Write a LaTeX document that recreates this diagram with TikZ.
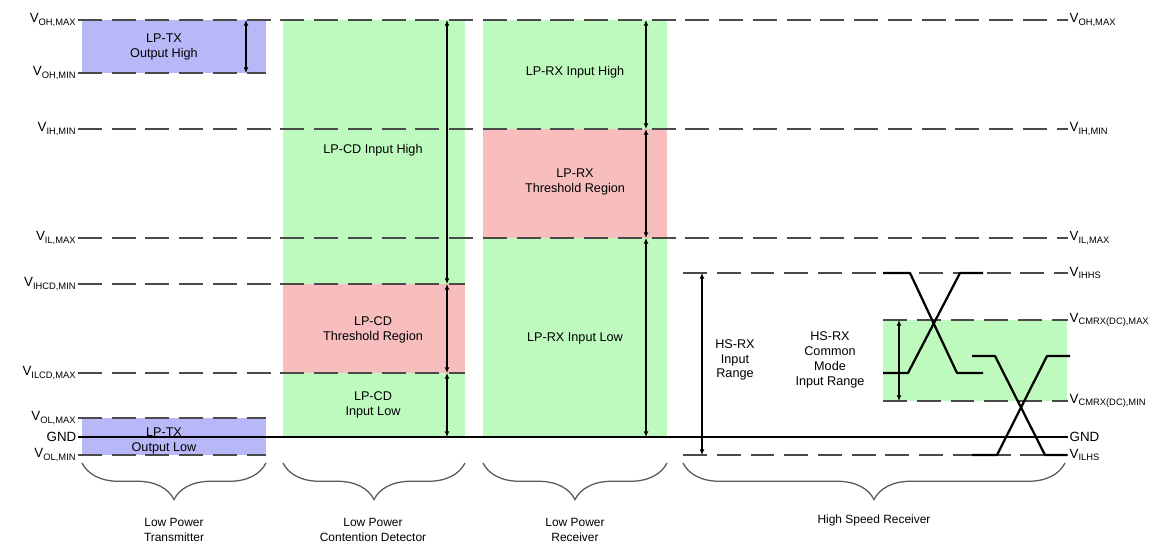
\documentclass[tikz,border=0pt]{standalone}
\usepackage{fontspec}
\setmainfont{Liberation Sans}
\usetikzlibrary{arrows.meta, decorations.pathreplacing}
\definecolor{lpblue}{HTML}{B8B8F8}
\definecolor{lpgreen}{HTML}{BEFABE}
\definecolor{lpred}{HTML}{F8BEBE}
\definecolor{lvlgray}{HTML}{4A4A4A}
\newcommand{\lv}[1]{V\textsubscript{#1}}

\begin{document}
\begin{tikzpicture}[x=0.025cm, y=-0.025cm,
  every node/.style={font=\fontsize{9}{10.5}\selectfont, inner sep=1pt},
  level/.style={draw=lvlgray, line width=1.4pt, dash pattern=on 17pt off 7pt},
  gnd/.style={draw=black, line width=2pt},
  span/.style={{Latex[length=4pt,width=3.5pt]}-{Latex[length=4pt,width=3.5pt]}, line width=0.8pt},
  region/.style={align=center},
  lname/.style={anchor=east, font=\fontsize{9.5}{10}\selectfont},
  rname/.style={anchor=west, font=\fontsize{9.5}{10}\selectfont},
  group/.style={draw=black!65, line width=0.9pt, decorate, decoration={brace, mirror, amplitude=26pt}},
  caption/.style={align=center, font=\fontsize{8.5}{11}\selectfont},
  wave/.style={line width=1.6pt, line join=round},
]
\useasboundingbox (0,0) rectangle (1160,550);

% coloured regions
\fill[lpblue] (82,20) rectangle (266,73);
\fill[lpblue] (82,418) rectangle (266,455);
\fill[lpgreen] (283,20) rectangle (465,437);
\fill[lpred] (283,284) rectangle (465,373);
\fill[lpgreen] (483,20) rectangle (667,437);
\fill[lpred] (483,129) rectangle (667,238);
\fill[lpgreen] (883,320) rectangle (1067,401);

% level names, left
\node[lname] (ohmax) at (78,20) {\lv{OH,MAX}};
\node[lname] (ohmin) at (78,73) {\lv{OH,MIN}};
\node[lname] (ihmin) at (78,129) {\lv{IH,MIN}};
\node[lname] (ilmax) at (78,238) {\lv{IL,MAX}};
\node[lname] (ihcd) at (78,284) {\lv{IHCD,MIN}};
\node[lname] (ilcd) at (78,373) {\lv{ILCD,MAX}};
\node[lname] (olmax) at (78,418) {\lv{OL,MAX}};
\node[lname] (gnd) at (78,437) {GND};
\node[lname] (olmin) at (78,455) {\lv{OL,MIN}};

% level names, right
\node[rname] (ohmaxR) at (1068,20) {\lv{OH,MAX}};
\node[rname] (ihminR) at (1068,129) {\lv{IH,MIN}};
\node[rname] (ilmaxR) at (1068,238) {\lv{IL,MAX}};
\node[rname] (ihhsR) at (1068,273) {\lv{IHHS}};
\node[rname] (cmmaxR) at (1068,320) {\lv{CMRX(DC),MAX}};
\node[rname] (cmminR) at (1068,401) {\lv{CMRX(DC),MIN}};
\node[rname] (gndR) at (1068,437) {GND};
\node[rname] (ilhsR) at (1068,455) {\lv{ILHS}};

% free ends of the short levels
\coordinate (txhi) at (266,73);
\coordinate (cdhi) at (465,284);
\coordinate (cdlo) at (465,373);
\coordinate (txlo) at (266,418);
\coordinate (txmin) at (266,455);
\coordinate (hshi) at (683,273);
\coordinate (cmhi) at (883,320);
\coordinate (cmlo) at (883,401);
\coordinate (hslo) at (683,455);

% levels
\draw[level] (ohmax.east) -- (ohmaxR.west);
\draw[level] (ohmin.east) -- (txhi);
\draw[level] (ihmin.east) -- (ihminR.west);
\draw[level] (ilmax.east) -- (ilmaxR.west);
\draw[level] (ihcd.east) -- (cdhi);
\draw[level] (ilcd.east) -- (cdlo);
\draw[level] (olmax.east) -- (txlo);
\draw[level] (olmin.east) -- (txmin);
\draw[level] (hshi) -- (ihhsR.west);
\draw[level] (cmhi) -- (cmmaxR.west);
\draw[level] (cmlo) -- (cmminR.west);
\draw[level] (hslo) -- (ilhsR.west);
\draw[gnd] (gnd.east) -- (gndR.west);

% ranges
\foreach \n/\y in {a/20, b/73} \coordinate (tx\n) at (246,\y);
\foreach \n/\y in {a/20, b/284, c/373, d/437} \coordinate (cd\n) at (447,\y);
\foreach \n/\y in {a/20, b/129, c/238, d/437} \coordinate (rx\n) at (646,\y);
\foreach \n/\y in {a/273, b/455} \coordinate (hs\n) at (702,\y);
\foreach \n/\y in {a/320, b/401} \coordinate (cm\n) at (899,\y);
\draw[span] (txa) -- (txb);
\draw[span] (cda) -- (cdb);
\draw[span] (cdb) -- (cdc);
\draw[span] (cdc) -- (cdd);
\draw[span] (rxa) -- (rxb);
\draw[span] (rxb) -- (rxc);
\draw[span] (rxc) -- (rxd);
\draw[span] (hsa) -- (hsb);
\draw[span] (cma) -- (cmb);

% region texts
\node[region] (txhigh) at (164,47) {LP-TX\\Output High};
\node[region] (txlow) at (164,441) {LP-TX\\Output Low};
\node[region] (cdhigh) at (373,150) {LP-CD Input High};
\node[region] (cdthr) at (373,330) {LP-CD\\Threshold Region};
\node[region] (cdlow) at (373,405) {LP-CD\\Input Low};
\node[region] (rxhigh) at (575,72) {LP-RX Input High};
\node[region] (rxthr) at (575,182) {LP-RX\\Threshold Region};
\node[region] (rxlow) at (575,338) {LP-RX Input Low};
\node[region] (hsin) at (735,360) {HS-RX\\Input\\Range};
\node[region] (hscm) at (830,360) {HS-RX\\Common\\Mode\\Input Range};

% differential signals
\draw[wave] (883,273) -- (910,273) -- (957,373) -- (983,373);
\draw[wave] (883,373) -- (908,373) -- (960,273) -- (983,273);
\draw[wave] (972,356) -- (995,356) -- (1045,455) -- (1067,455);
\draw[wave] (972,455) -- (997,455) -- (1047,356) -- (1070,356);

% groups
\draw[group] (82,463) -- (266,463);
\draw[group] (283,463) -- (465,463);
\draw[group] (483,463) -- (667,463);
\draw[group] (683,463) -- (1065,463);
\node[caption] (lpt) at (174,530) {Low Power\\Transmitter};
\node[caption] (lpcd) at (373,530) {Low Power\\Contention Detector};
\node[caption] (lprx) at (575,530) {Low Power\\Receiver};
\node[caption] (hsrx) at (874,520) {High Speed Receiver};
\end{tikzpicture}
\end{document}
